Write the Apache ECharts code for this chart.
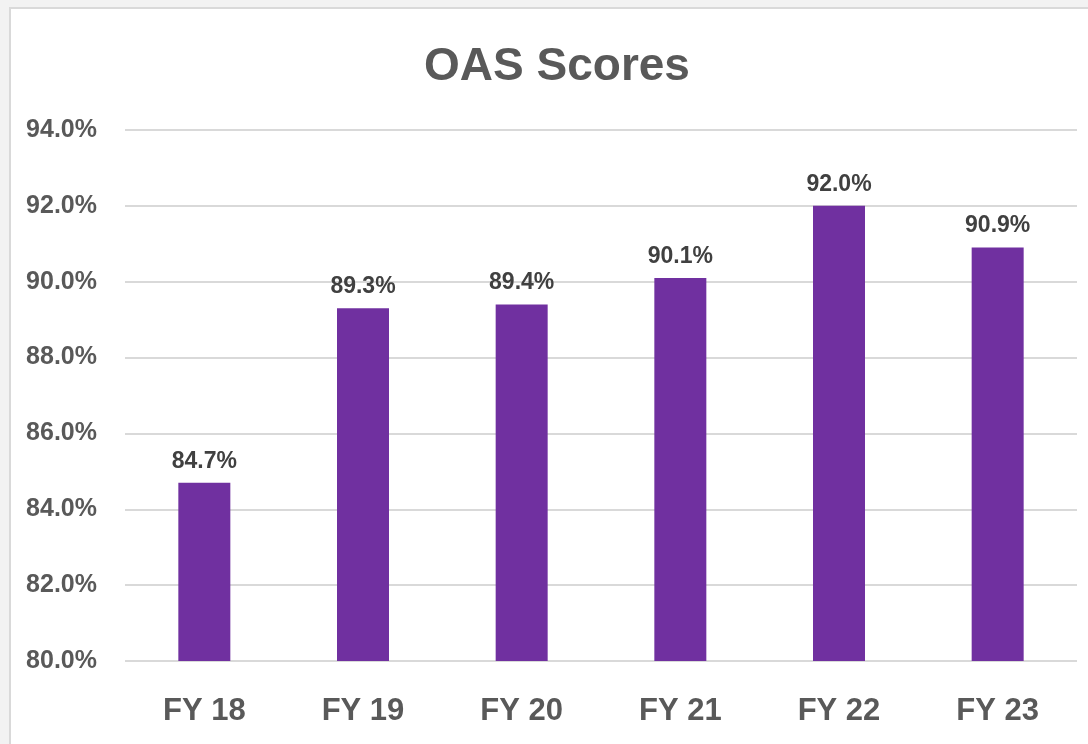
<!DOCTYPE html>
<html>
  <meta charset="UTF-8">
  <title>OAS Scores</title>
  <style type="text/css">
    html,body{margin:0px;height:100%;width:100%;background:#f2f2f2;overflow:hidden}
    #chart{position:absolute;left:9px;top:7px;width:1092px;height:760px;border:2px solid #d9d9d9;background:#fff}
  </style>
  <body>
    <div id="chart"></div>
    <script type="text/javascript" src="https://cdn.jsdelivr.net/npm/echarts@6/dist/echarts.min.js"></script>
    <script>
      var categories = ['FY 18', 'FY 19', 'FY 20', 'FY 21', 'FY 22', 'FY 23'];
      var scores = [84.7, 89.3, 89.4, 90.1, 92.0, 90.9];

      var font = '"Liberation Sans", Arial, sans-serif';
      var myChart = echarts.init(document.getElementById('chart'));
      var option = {
        animation: false,
        title: {
          text: 'OAS Scores',
          left: 'center',
          top: 30,
          textStyle: { fontFamily: font, fontSize: 46, fontWeight: 'bold', color: '#595959' }
        },
        grid: { left: 114, top: 121, width: 952, height: 531 },
        xAxis: {
          type: 'category',
          data: categories,
          axisLine: { show: false },
          axisTick: { show: false },
          axisLabel: { margin: 35, fontFamily: font, fontSize: 31, fontWeight: 'bold', color: '#595959' }
        },
        yAxis: {
          type: 'value',
          min: 80,
          max: 94,
          interval: 2,
          axisLine: { show: false },
          axisTick: { show: false },
          splitLine: { lineStyle: { color: '#d9d9d9', width: 2 } },
          axisLabel: {
            margin: 28,
            padding: [3, 0, 0, 0],
            fontFamily: font, fontSize: 25, fontWeight: 'bold', color: '#595959',
            formatter: function (v) { return v.toFixed(1) + '%'; }
          }
        },
        series: [
          {
            type: 'bar',
            data: scores,
            barWidth: 52,
            itemStyle: { color: '#7030a0' },
            label: {
              show: true,
              position: 'top',
              distance: 10,
              fontFamily: font, fontSize: 23, fontWeight: 'bold', color: '#404040',
              formatter: function (p) { return p.value.toFixed(1) + '%'; }
            }
          }
        ]
      };
      myChart.setOption(option);
    </script>
  </body>
</html>
